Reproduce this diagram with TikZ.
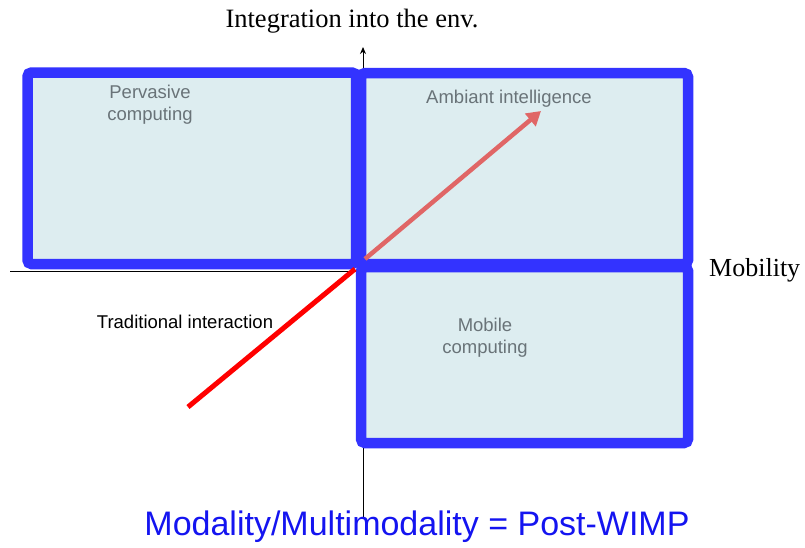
\documentclass[tikz,border=0pt]{standalone}
\usepackage{fontspec}
\setmainfont{Liberation Serif}
\setsansfont{Liberation Sans}
\usetikzlibrary{arrows.meta}
\definecolor{boxblue}{RGB}{51,51,255}
\definecolor{boxfill}{RGB}{221,237,240}
\definecolor{labgray}{RGB}{105,115,120}
\definecolor{pinkarrow}{RGB}{224,102,102}
\definecolor{titleblue}{RGB}{20,20,240}
\tikzset{
  quad/.style={draw=boxblue, fill=boxfill, line width=10.5pt, rounded corners=4pt},
  axisline/.style={draw=black, line width=1pt, -{Stealth[length=7pt,width=6pt]}},
  lab/.style={font=\sffamily\fontsize{18.5}{22}\selectfont, text=labgray, align=center, inner sep=0pt},
}
\begin{document}
\begin{tikzpicture}[x=1pt,y=-1pt]
\useasboundingbox (0,0) rectangle (805,547);
% axes
\coordinate (xs) at (10,271);
\coordinate (xe) at (688,271);
\coordinate (ys) at (363,518);
\coordinate (ye) at (363,47);
\draw[axisline] (xs) -- (xe);
\draw[axisline] (ys) -- (ye);
% boxes
\draw[quad] (27.5,72.5) rectangle (356,264);
\draw[quad] (361,73) rectangle (688,264);
\draw[quad] (361,267) rectangle (688,443);
% arrows
\coordinate (o1) at (355,269);
\coordinate (red1) at (188,407);
\draw[red, line width=5pt] (red1) -- (o1);
\coordinate (o2) at (365,259);
\coordinate (pk) at (541,111);
\draw[pinkarrow, line width=4.5pt, -{Triangle[length=14pt,width=16pt]}] (o2) -- (pk);
% labels
\node[font=\fontsize{26.5}{30}\selectfont, inner sep=0pt] (ylab) at (352,21) {Integration into the env.};
\node[font=\fontsize{26}{30}\selectfont, anchor=west, inner sep=0pt] (xlab) at (709,270) {Mobility};
\node[lab] (perv) at (150,105) {Pervasive\\computing};
\node[lab] (amb) at (509,99) {Ambiant intelligence};
\node[lab] (mob) at (485,338) {Mobile\\computing};
\node[font=\sffamily\fontsize{18.5}{22}\selectfont, inner sep=0pt] (trad) at (185,322) {Traditional interaction};
\node[font=\sffamily\fontsize{34}{38}\selectfont, text=titleblue, inner sep=0pt] (title) at (417,527) {Modality/Multimodality = Post-WIMP};
\end{tikzpicture}
\end{document}
